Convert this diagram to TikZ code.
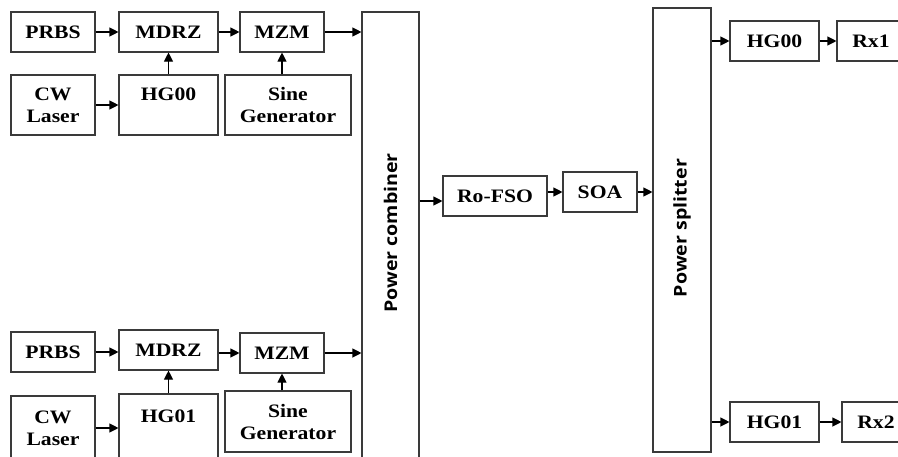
\documentclass[tikz,border=0pt]{standalone}
\usepackage{fontspec}
\setmainfont{Liberation Serif}[FakeStretch=1.14]
\newfontfamily\sansb{Open Sans}[FakeStretch=1.12]
\usetikzlibrary{arrows.meta}
\definecolor{lc}{HTML}{3A3A3A}
\tikzset{
  box/.style={draw=lc, line width=1.1pt, inner sep=0pt, align=center,
    font=\fontsize{19}{22}\selectfont\bfseries},
  tall/.style={draw=lc, line width=1.1pt, inner sep=0pt},
  vlabel/.style={rotate=90, font=\sansb\fontsize{17.5}{20}\selectfont\bfseries},
  arr/.style={draw=black, line width=1.1pt, -{Triangle[length=9pt,width=9pt]}}
}
\begin{document}
\begin{tikzpicture}[x=1pt,y=-1pt]
\useasboundingbox (0,0) rectangle (898,456);
\clip (0,0) rectangle (898,456);
% upper branch
\node[box, minimum width=84, minimum height=40] (prbs1) at (53,32) {PRBS};
\node[box, minimum width=99, minimum height=40] (mdrz1) at (168.5,32) {MDRZ};
\node[box, minimum width=84, minimum height=40] (mzm1) at (282,32) {MZM};
\node[box, minimum width=84, minimum height=60] (cw1) at (53,105) {CW\\Laser};
\node[box, minimum width=99, minimum height=60] (hg1) at (168.5,105) {HG00\\\mbox{}};
\node[box, minimum width=126, minimum height=60] (sine1) at (288,105) {Sine\\Generator};
% lower branch
\node[box, minimum width=84, minimum height=40] (prbs2) at (53,352) {PRBS};
\node[box, minimum width=99, minimum height=40] (mdrz2) at (168.5,350) {MDRZ};
\node[box, minimum width=84, minimum height=40] (mzm2) at (282,353) {MZM};
\node[box, minimum width=84, minimum height=64] (cw2) at (53,428) {CW\\Laser};
\node[box, minimum width=99, minimum height=66] (hg2) at (168.5,427) {HG01\\\mbox{}};
\node[box, minimum width=126, minimum height=61] (sine2) at (288,421.5) {Sine\\Generator};
% combiner / link / splitter
\node[tall, minimum width=57, minimum height=446] (comb) at (390.5,235) {};
\node[vlabel] (combl) at (390.5,233) {Power combiner};
\node[box, minimum width=104, minimum height=40] (rofso) at (495,196) {Ro-FSO};
\node[box, minimum width=74, minimum height=40] (soa) at (600,192) {SOA};
\node[tall, minimum width=58, minimum height=444] (split) at (682,230) {};
\node[vlabel] (splitl) at (682,228) {Power splitter};
% receivers
\node[box, minimum width=89, minimum height=40] (hgr1) at (774.5,41) {HG00};
\node[box, minimum width=68, minimum height=40] (rx1) at (871,41) {Rx1};
\node[box, minimum width=89, minimum height=40] (hgr2) at (774.5,422) {HG01};
\node[box, minimum width=68, minimum height=40] (rx2) at (876,422) {Rx2};
% connectors upper
\draw[arr] (prbs1.east) -- (prbs1.east -| mdrz1.west);
\draw[arr] (mdrz1.east) -- (mdrz1.east -| mzm1.west);
\draw[arr] (mzm1.east) -- (mzm1.east -| comb.west);
\draw[arr] (cw1.east) -- (cw1.east -| hg1.west);
\draw[arr] (hg1.north) -- (mdrz1.south);
\draw[arr] (sine1.north -| mzm1.south) -- (mzm1.south);
% connectors lower
\draw[arr] (prbs2.east) -- (prbs2.east -| mdrz2.west);
\draw[arr] (mzm2.west -| mdrz2.east) -- (mzm2.west);
\draw[arr] (mzm2.east) -- (mzm2.east -| comb.west);
\draw[arr] (cw2.east) -- (cw2.east -| hg2.west);
\draw[arr] (hg2.north) -- (mdrz2.south);
\draw[arr] (sine2.north -| mzm2.south) -- (mzm2.south);
% link
\draw[arr] ([yshift=-5pt]rofso.west -| comb.east) -- ([yshift=-5pt]rofso.west);
\draw[arr] (soa.west -| rofso.east) -- (soa.west);
\draw[arr] (soa.east) -- (soa.east -| split.west);
% outputs
\draw[arr] (hgr1.west -| split.east) -- (hgr1.west);
\draw[arr] (hgr1.east) -- (rx1.west);
\draw[arr] (hgr2.west -| split.east) -- (hgr2.west);
\draw[arr] (hgr2.east) -- (rx2.west);
\end{tikzpicture}
\end{document}
